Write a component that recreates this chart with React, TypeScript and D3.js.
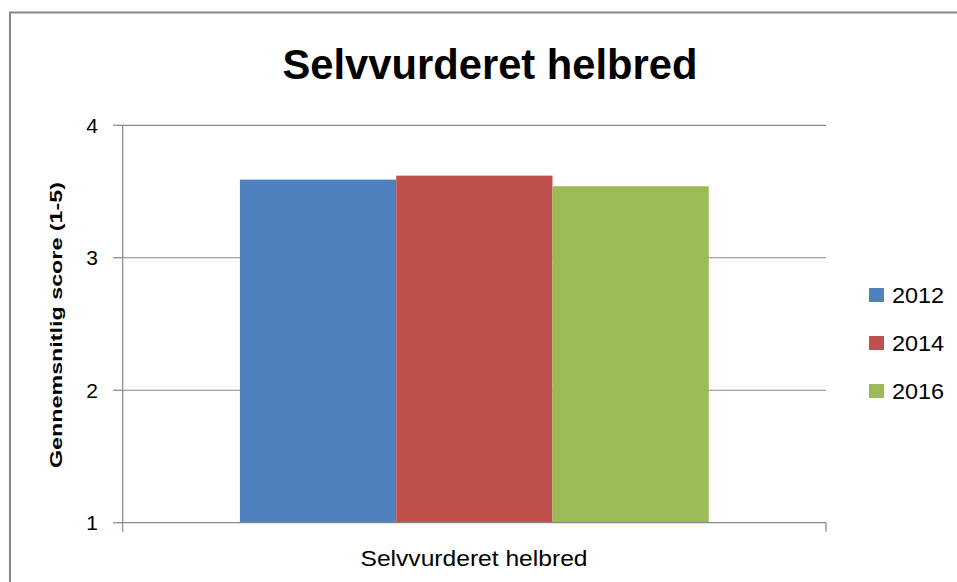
import React from 'react';
import * as d3 from 'd3';

const category = 'Selvvurderet helbred';
const years = ['2012', '2014', '2016'];
const scores = [3.59, 3.62, 3.54];
const colors = ['#4F81BD', '#C0504D', '#9BBB59'];
const yTicks = [1, 2, 3, 4];

const W = 957;
const H = 582;
const plot = { left: 122.7, right: 826, top: 125.3, bottom: 522.7 };

const App: React.FC = () => {
  const y = d3.scaleLinear().domain([1, 4]).range([plot.bottom, plot.top]);

  // one category, excel style 150% gap
  const x0 = d3.scaleBand().domain([category]).range([plot.left, plot.right]).paddingInner(0).paddingOuter(0.25);
  const x1 = d3.scaleBand().domain(years).range([0, x0.bandwidth()]);

  const font = "'Liberation Sans', Arial, sans-serif";

  return (
    <svg width={W} height={H} style={{ position: 'absolute', left: 0, top: 0, background: '#fff' }} fontFamily={font}>
      {/* outer frame */}
      <rect x={10} y={12.5} width={1000} height={700} fill="#fff" stroke="#868686" strokeWidth={2} />

      <text x={490} y={79} textAnchor="middle" fontWeight="bold" fontSize={42} textLength={415} lengthAdjust="spacingAndGlyphs" fill="#000">
        {category}
      </text>

      {/* gridlines and y ticks */}
      {yTicks.map(t => (
        <g key={t}>
          {t > 1 && (
            <line x1={plot.left} x2={plot.right} y1={y(t)} y2={y(t)} stroke="#868686" strokeWidth={1.2} />
          )}
          <line x1={113} x2={plot.left} y1={y(t)} y2={y(t)} stroke="#868686" strokeWidth={1.2} />
          <text x={98} y={y(t)} dy="0.35em" textAnchor="end" fontSize={21} fill="#000">
            {t}
          </text>
        </g>
      ))}

      {/* bars */}
      {years.map((yr, i) => (
        <rect
          key={yr}
          x={(x0(category) ?? 0) + (x1(yr) ?? 0)}
          y={y(scores[i])}
          width={x1.bandwidth()}
          height={y(1) - y(scores[i])}
          fill={colors[i]}
        />
      ))}

      {/* axes */}
      <line x1={plot.left} x2={plot.left} y1={plot.top} y2={plot.bottom} stroke="#868686" strokeWidth={1.2} />
      <line x1={plot.left} x2={plot.right} y1={plot.bottom} y2={plot.bottom} stroke="#868686" strokeWidth={1.2} />
      <line x1={plot.left} x2={plot.left} y1={plot.bottom} y2={plot.bottom + 9} stroke="#868686" strokeWidth={1.2} />
      <line x1={plot.right} x2={plot.right} y1={plot.bottom} y2={plot.bottom + 9} stroke="#868686" strokeWidth={1.2} />

      <text x={474} y={566} textAnchor="middle" fontSize={22} textLength={227} lengthAdjust="spacingAndGlyphs" fill="#000">
        {category}
      </text>

      <text
        transform="translate(62,325) rotate(-90)"
        textAnchor="middle"
        fontWeight="bold"
        fontSize={17}
        textLength={286}
        lengthAdjust="spacingAndGlyphs"
        fill="#000"
      >
        Gennemsnitlig score (1-5)
      </text>

      {/* legend */}
      {years.map((yr, i) => (
        <g key={yr} transform={`translate(869,${288 + i * 48})`}>
          <rect x={0} y={0} width={15} height={14} fill={colors[i]} />
          <text x={23} y={15} fontSize={22} textLength={52} lengthAdjust="spacingAndGlyphs" fill="#000">
            {yr}
          </text>
        </g>
      ))}
    </svg>
  );
};

export default App;
